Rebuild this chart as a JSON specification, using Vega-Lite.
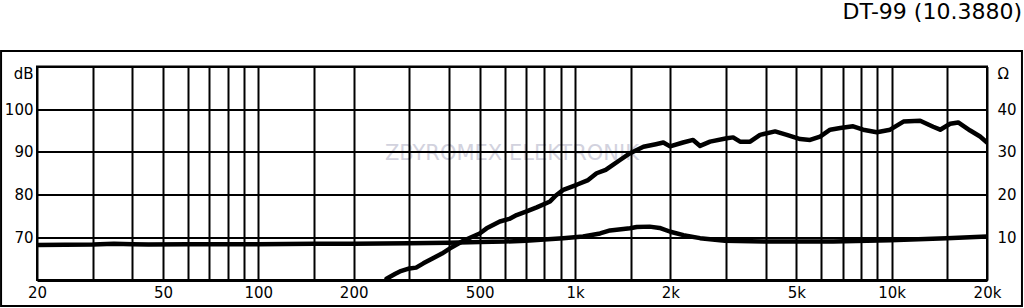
{
  "$schema": "https://vega.github.io/schema/vega-lite/v6.json",
  "width": 950,
  "height": 213.5,
  "autosize": {"type": "none"},
  "padding": {"left": 37, "top": 66.5, "right": 37, "bottom": 28},
  "background": "white",
  "config": {
    "view": {"stroke": "black", "strokeWidth": 2},
    "font": "DejaVu Sans"
  },
  "title": {
    "text": "DT-99 (10.3880)",
    "anchor": "end",
    "frame": "group",
    "orient": "top",
    "baseline": "bottom",
    "offset": 4,
    "dx": 35,
    "font": "DejaVu Sans",
    "fontSize": 22,
    "fontWeight": "normal",
    "color": "black"
  },
  "datasets": {
    "spl": [
      {"f": 254, "db": 60.3}, {"f": 270, "db": 61.4}, {"f": 280, "db": 62.0}, {"f": 300, "db": 62.7},
      {"f": 315, "db": 62.9}, {"f": 332, "db": 63.9}, {"f": 356, "db": 65.1}, {"f": 380, "db": 66.2},
      {"f": 403, "db": 67.4}, {"f": 444, "db": 69.2}, {"f": 470, "db": 70.0}, {"f": 500, "db": 70.9},
      {"f": 526, "db": 72.1}, {"f": 579, "db": 73.7}, {"f": 620, "db": 74.3}, {"f": 654, "db": 75.2},
      {"f": 700, "db": 76.0}, {"f": 757, "db": 77.0}, {"f": 834, "db": 78.4}, {"f": 870, "db": 79.8},
      {"f": 918, "db": 81.1}, {"f": 1012, "db": 82.3}, {"f": 1100, "db": 83.4}, {"f": 1170, "db": 85.0},
      {"f": 1250, "db": 85.8}, {"f": 1321, "db": 87.0}, {"f": 1387, "db": 88.1}, {"f": 1493, "db": 89.7},
      {"f": 1645, "db": 91.2}, {"f": 1800, "db": 91.8}, {"f": 1901, "db": 92.2}, {"f": 1996, "db": 91.3},
      {"f": 2193, "db": 92.2}, {"f": 2360, "db": 92.8}, {"f": 2483, "db": 91.4}, {"f": 2670, "db": 92.4},
      {"f": 3015, "db": 93.2}, {"f": 3157, "db": 93.4}, {"f": 3321, "db": 92.4}, {"f": 3573, "db": 92.4},
      {"f": 3840, "db": 94.0}, {"f": 4284, "db": 94.8}, {"f": 4666, "db": 94.0}, {"f": 5142, "db": 93.0},
      {"f": 5524, "db": 92.8}, {"f": 5942, "db": 93.6}, {"f": 6393, "db": 95.2}, {"f": 6880, "db": 95.6},
      {"f": 7555, "db": 96.0}, {"f": 8125, "db": 95.2}, {"f": 8976, "db": 94.6}, {"f": 9890, "db": 95.2},
      {"f": 10893, "db": 97.1}, {"f": 12300, "db": 97.3}, {"f": 13520, "db": 95.9}, {"f": 14230, "db": 95.2},
      {"f": 15300, "db": 96.6}, {"f": 16220, "db": 96.9}, {"f": 17700, "db": 95.0}, {"f": 19020, "db": 93.6},
      {"f": 20000, "db": 92.2}
    ],
    "imp": [
      {"f": 20, "ohm": 8.2}, {"f": 30, "ohm": 8.3}, {"f": 35, "ohm": 8.5}, {"f": 40, "ohm": 8.4},
      {"f": 45, "ohm": 8.3}, {"f": 60, "ohm": 8.4}, {"f": 100, "ohm": 8.4}, {"f": 150, "ohm": 8.5},
      {"f": 200, "ohm": 8.5}, {"f": 300, "ohm": 8.6}, {"f": 400, "ohm": 8.7}, {"f": 500, "ohm": 8.9},
      {"f": 600, "ohm": 9.0}, {"f": 700, "ohm": 9.2}, {"f": 800, "ohm": 9.5}, {"f": 917, "ohm": 9.8},
      {"f": 1060, "ohm": 10.2}, {"f": 1200, "ohm": 10.9}, {"f": 1290, "ohm": 11.6}, {"f": 1491, "ohm": 12.1},
      {"f": 1566, "ohm": 12.4}, {"f": 1721, "ohm": 12.5}, {"f": 1850, "ohm": 12.2}, {"f": 2000, "ohm": 11.3},
      {"f": 2200, "ohm": 10.5}, {"f": 2483, "ohm": 9.8}, {"f": 2975, "ohm": 9.2}, {"f": 4030, "ohm": 9.0},
      {"f": 6530, "ohm": 9.0}, {"f": 9880, "ohm": 9.3}, {"f": 14920, "ohm": 9.8}, {"f": 20000, "ohm": 10.2}
    ]
  },
  "layer": [
    {
      "layer": [
        {
          "data": {"values": [{}]},
          "mark": {"type": "rect", "filled": false, "stroke": "black", "strokeWidth": 2, "clip": false},
          "encoding": {
            "x": {"datum": 15.4, "type": "quantitative", "title": null},
            "x2": {"datum": 25790},
            "y": {"datum": 53.9, "type": "quantitative", "title": null},
            "y2": {"datum": 113.63}
          }
        },
        {
          "data": {"values": [{}]},
          "mark": {"type": "text", "text": "ZBYROMEX ELEKTRONIK", "font": "DejaVu Sans", "fontSize": 21, "color": "#d2d2de", "align": "center", "baseline": "middle"},
          "encoding": {
            "x": {"datum": 632, "type": "quantitative", "title": null},
            "y": {"datum": 89.5, "type": "quantitative", "title": null}
          }
        },
        {
          "data": {"name": "spl"},
          "mark": {"type": "line", "color": "black", "strokeWidth": 4.5, "strokeJoin": "round", "strokeCap": "round", "clip": true},
          "encoding": {
            "x": {
              "field": "f", "type": "quantitative", "title": null,
              "scale": {"type": "log", "domain": [20, 20000], "nice": false},
              "axis": {
                "values": [20, 30, 40, 50, 60, 70, 80, 90, 100, 150, 200, 300, 400, 500, 600, 700, 800, 900, 1000, 1500, 2000, 3000, 4000, 5000, 6000, 7000, 8000, 9000, 10000, 15000, 20000],
                "labelExpr": "indexof([20,50,100,200,500,1000,2000,5000,10000,20000], datum.value) >= 0 ? (datum.value >= 1000 ? (datum.value / 1000) + 'k' : '' + datum.value) : ''",
                "grid": true, "gridColor": "black", "gridWidth": 2, "gridOpacity": 1,
                "ticks": false, "domain": false,
                "labelPadding": 5, "labelFontSize": 15, "labelFont": "DejaVu Sans", "labelColor": "black",
                "labelOverlap": false, "labelFlush": false, "labelBound": false,
                "zindex": 1
              }
            },
            "y": {
              "field": "db", "type": "quantitative", "title": null,
              "scale": {"domain": [60, 110], "nice": false, "zero": false},
              "axis": {
                "orient": "left",
                "values": [60, 65, 70, 75, 80, 85, 90, 95, 100, 105, 110],
                "labelExpr": "datum.value == 110 ? 'dB' : ((datum.value >= 70 && datum.value <= 100 && datum.value % 10 == 0) ? '' + datum.value : '')",
                "grid": true, "gridColor": "black", "gridWidth": 2, "gridOpacity": 1,
                "ticks": false, "domain": false,
                "labelPadding": 4, "labelFontSize": 15, "labelFont": "DejaVu Sans", "labelColor": "black",
                "labelBaseline": {"condition": {"test": "datum.value == 110", "value": "top"}, "value": "middle"},
                "labelOverlap": false, "labelFlush": false, "labelBound": false,
                "zindex": 1
              }
            }
          }
        }
      ]
    },
    {
      "data": {"name": "imp"},
      "mark": {"type": "line", "color": "black", "strokeWidth": 4.5, "strokeJoin": "round", "strokeCap": "round", "clip": true},
      "encoding": {
        "x": {"field": "f", "type": "quantitative", "title": null},
        "y": {
          "field": "ohm", "type": "quantitative", "title": null,
          "scale": {"domain": [0, 50], "nice": false, "zero": false},
          "axis": {
            "orient": "right",
            "values": [10, 20, 30, 40, 50],
            "labelExpr": "datum.value == 50 ? 'Ω' : '' + datum.value",
            "grid": false, "ticks": false, "domain": false,
            "labelPadding": 10, "labelFontSize": 15, "labelFont": "DejaVu Sans", "labelColor": "black",
            "labelBaseline": {"condition": {"test": "datum.value == 50", "value": "top"}, "value": "middle"},
            "labelOverlap": false, "labelFlush": false, "labelBound": false
          }
        }
      }
    }
  ],
  "resolve": {"scale": {"y": "independent"}}
}
